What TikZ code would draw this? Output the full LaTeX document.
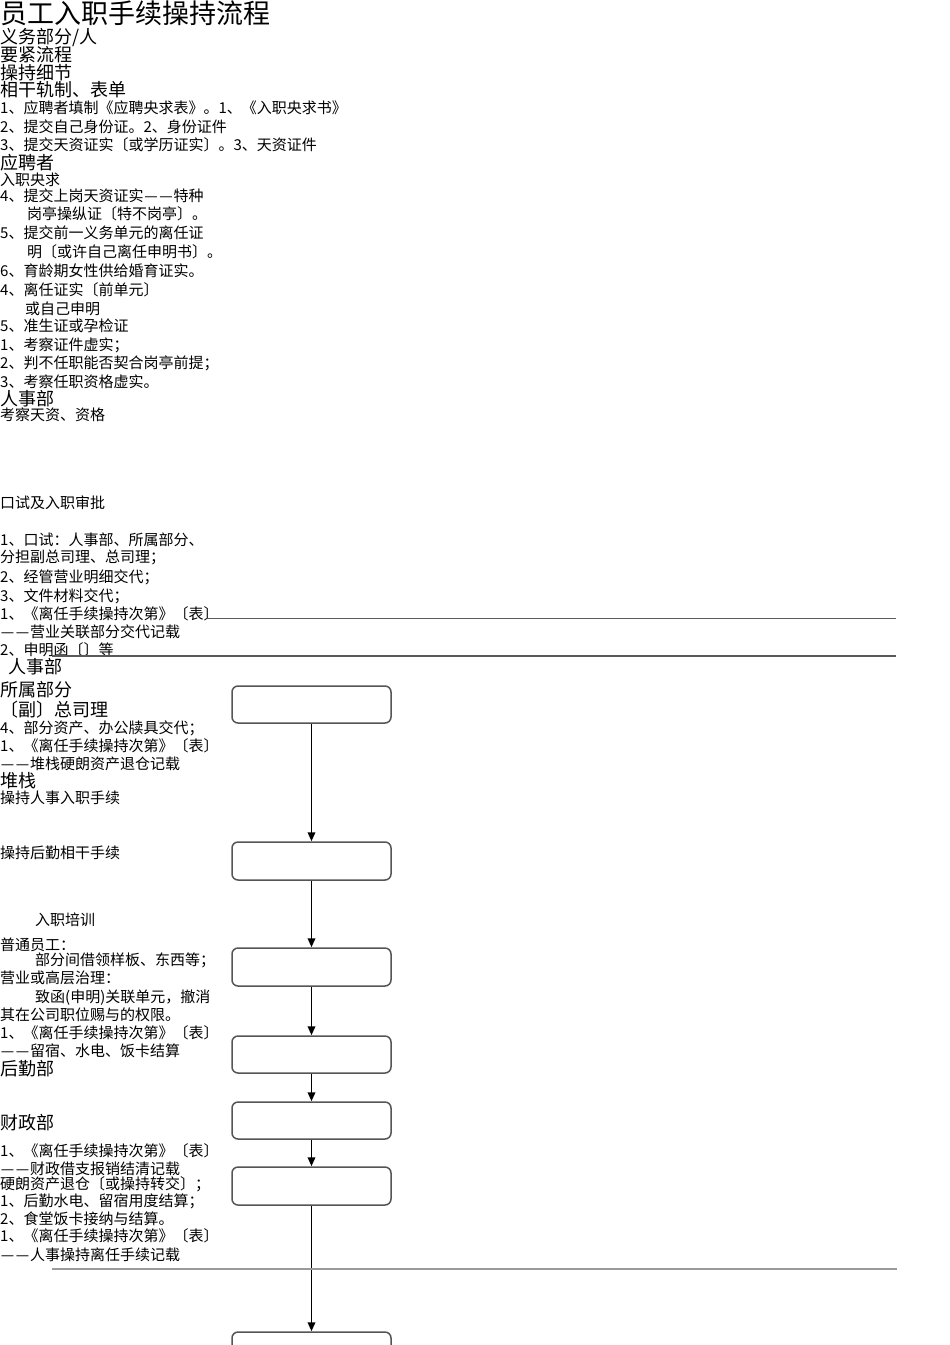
\documentclass[tikz,border=0pt]{standalone}
\usepackage{fontspec}
\setmainfont{Noto Sans CJK SC}
\usetikzlibrary{arrows.meta}
\definecolor{boxline}{HTML}{555555}
\definecolor{rulea}{HTML}{5A5A5A}
\definecolor{ruleb}{HTML}{9A9A9A}
\newcommand\wdash{\makebox[1em][c]{—}}
\tikzset{
  tl/.style={anchor=west, inner sep=0pt, text height=23.8pt, text depth=3.2pt, font=\fontsize{27}{30}\selectfont},
  tm/.style={anchor=west, inner sep=0pt, text height=15.8pt, text depth=2.2pt, font=\fontsize{18}{20}\selectfont},
  ts/.style={anchor=west, inner sep=0pt, text height=13.2pt, text depth=1.8pt, font=\fontsize{15}{17}\selectfont},
  flowbox/.style={draw=boxline, line width=1.5pt, rounded corners=6pt, minimum width=159pt, inner sep=0pt},
  arr/.style={line width=1.9pt, -{Triangle[length=9pt,width=7.5pt]}},
  rulethin/.style={draw=rulea, line width=1.3pt},
  rulethick/.style={draw=ruleb, line width=2pt}
}
\begin{document}
\begin{tikzpicture}[x=1pt,y=-1pt]
\useasboundingbox (0,0) rectangle (950,1345);
\clip (0,0) rectangle (950,1345);
% texts
\node[tl] (t0) at (0,13) {员工入职手续操持流程};
\node[tm] (t1) at (0,37) {义务部分/人};
\node[tm] (t2) at (0,55) {要紧流程};
\node[tm] (t3) at (0,73) {操持细节};
\node[tm] (t4) at (0,90) {相干轨制、表单};
\node[ts] (t5) at (0,108) {1、应聘者填制《应聘央求表》。1、《入职央求书》};
\node[ts] (t6) at (0,127) {2、提交自己身份证。2、身份证件};
\node[ts] (t7) at (0,145) {3、提交天资证实〔或学历证实〕。3、天资证件};
\node[tm] (t8) at (0,163) {应聘者};
\node[ts] (t9) at (0,180) {入职央求};
\node[ts] (t10) at (0,196) {4、提交上岗天资证实\wdash\wdash 特种};
\node[ts] (t11) at (27,214) {岗亭操纵证〔特不岗亭〕。};
\node[ts] (t12) at (0,233) {5、提交前一义务单元的离任证};
\node[ts] (t13) at (27,252) {明〔或许自己离任申明书〕。};
\node[ts] (t14) at (0,271) {6、育龄期女性供给婚育证实。};
\node[ts] (t15) at (0,290) {4、离任证实〔前单元〕};
\node[ts] (t16) at (25,309) {或自己申明};
\node[ts] (t17) at (0,326) {5、准生证或孕检证};
\node[ts] (t18) at (0,345) {1、考察证件虚实；};
\node[ts] (t19) at (0,363) {2、判不任职能否契合岗亭前提；};
\node[ts] (t20) at (0,382) {3、考察任职资格虚实。};
\node[tm] (t21) at (0,399) {人事部};
\node[ts] (t22) at (0,415) {考察天资、资格};
\node[ts] (t23) at (0,503) {口试及入职审批};
\node[ts] (t24) at (0,540) {1、口试：人事部、所属部分、};
\node[ts] (t25) at (0,557) {分担副总司理、总司理；};
\node[ts] (t26) at (0,577) {2、经管营业明细交代；};
\node[ts] (t27) at (0,596) {3、文件材料交代；};
\node[ts] (t28) at (0,614) {1、《离任手续操持次第》〔表〕};
\node[ts] (t29) at (0,632) {\wdash\wdash 营业关联部分交代记载};
\node[ts] (t30) at (0,650) {2、申明函〔〕等};
\node[tm] (t31) at (8,667) {人事部};
\node[tm] (t32) at (0,690) {所属部分};
\node[tm] (t33) at (0,710) {〔副〕总司理};
\node[ts] (t34) at (0,728) {4、部分资产、办公牍具交代；};
\node[ts] (t35) at (0,746) {1、《离任手续操持次第》〔表〕};
\node[ts] (t36) at (0,764) {\wdash\wdash 堆栈硬朗资产退仓记载};
\node[tm] (t37) at (0,781) {堆栈};
\node[ts] (t38) at (0,798) {操持人事入职手续};
\node[ts] (t39) at (0,853) {操持后勤相干手续};
\node[ts] (t40) at (35,920) {入职培训};
\node[ts] (t41) at (0,945) {普通员工：};
\node[ts] (t42) at (35,960) {部分间借领样板、东西等；};
\node[ts] (t43) at (0,978) {营业或高层治理：};
\node[ts] (t44) at (35,997) {致函(申明)关联单元，撤消};
\node[ts] (t45) at (0,1015) {其在公司职位赐与的权限。};
\node[ts] (t46) at (0,1033) {1、《离任手续操持次第》〔表〕};
\node[ts] (t47) at (0,1051) {\wdash\wdash 留宿、水电、饭卡结算};
\node[tm] (t48) at (0,1069) {后勤部};
\node[tm] (t49) at (0,1123) {财政部};
\node[ts] (t50) at (0,1151) {1、《离任手续操持次第》〔表〕};
\node[ts] (t51) at (0,1169) {\wdash\wdash 财政借支报销结清记载};
\node[ts] (t52) at (0,1184) {硬朗资产退仓〔或操持转交〕；};
\node[ts] (t53) at (0,1201) {1、后勤水电、留宿用度结算；};
\node[ts] (t54) at (0,1219) {2、食堂饭卡接纳与结算。};
\node[ts] (t55) at (0,1236) {1、《离任手续操持次第》〔表〕};
\node[ts] (t56) at (0,1255) {\wdash\wdash 人事操持离任手续记载};
% boxes
\node[flowbox, minimum height=37pt] (b1) at (311.5,704.5) {};
\node[flowbox, minimum height=38pt] (b2) at (311.5,861) {};
\node[flowbox, minimum height=38pt] (b3) at (311.5,967) {};
\node[flowbox, minimum height=37pt] (b4) at (311.5,1054.5) {};
\node[flowbox, minimum height=37pt] (b5) at (311.5,1120.5) {};
\node[flowbox, minimum height=38pt] (b6) at (311.5,1186) {};
\node[flowbox, minimum height=37pt] (b7) at (311.5,1350.5) {};
% arrows
\draw[arr] (b1) -- (b2);
\draw[arr] (b2) -- (b3);
\draw[arr] (b3) -- (b4);
\draw[arr] (b4) -- (b5);
\draw[arr] (b5) -- (b6);
\draw[arr] (b6) -- (b7);
% rules
\coordinate (r1a) at (207,618.5);
\coordinate (r1b) at (896,618.5);
\coordinate (r2a) at (52,656);
\coordinate (r2b) at (896,656);
\coordinate (r3a) at (52,1269);
\coordinate (r3b) at (897,1269);
\draw[rulethin] (r1a) -- (r1b);
\draw[rulethin] (r2a) -- (r2b);
\draw[rulethick] (r3a) -- (r3b);
\end{tikzpicture}
\end{document}
